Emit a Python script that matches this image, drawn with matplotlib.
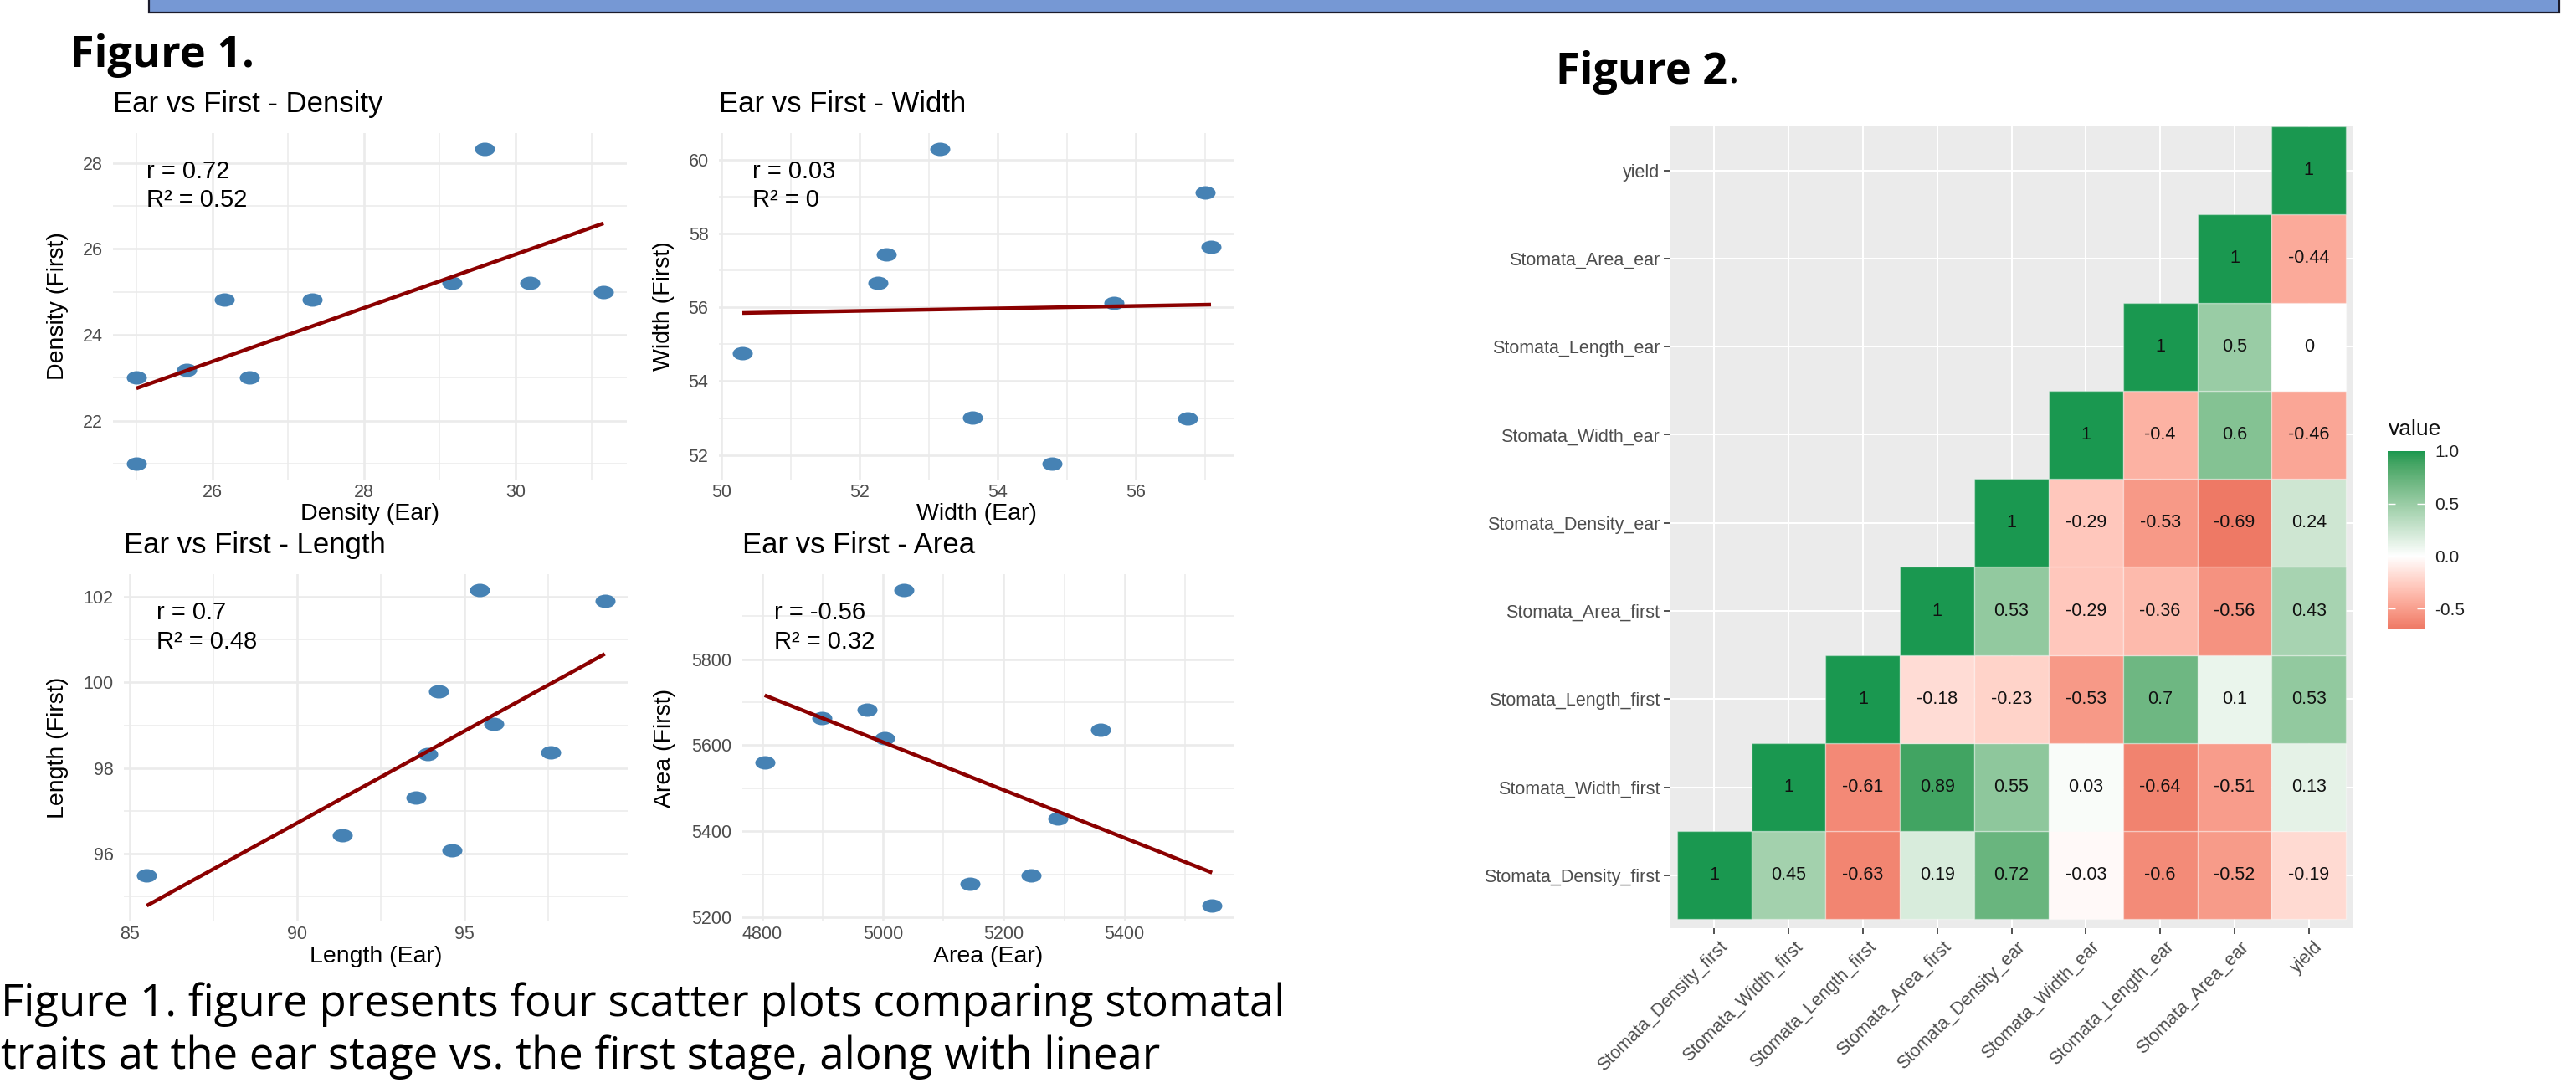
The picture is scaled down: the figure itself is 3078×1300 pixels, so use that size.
import numpy as np
import matplotlib
matplotlib.use('Agg')
import matplotlib.pyplot as plt
from matplotlib.patches import Rectangle
from matplotlib.path import Path
from matplotlib.ticker import MultipleLocator
from matplotlib.colors import ListedColormap, Normalize
from matplotlib.cm import ScalarMappable
from matplotlib.transforms import ScaledTranslation

plt.rcParams['font.family'] = ['Liberation Sans', 'DejaVu Sans']

# ---- Figure 1 data (ear vs first stage) ----
density_ear = [25.0, 25.0, 25.66, 26.16, 26.49, 27.32, 29.16, 29.59, 30.19, 31.16]
density_first = [23.0, 21.0, 23.19, 24.83, 23.0, 24.83, 25.21, 28.33, 25.21, 25.0]
width_ear = [50.30, 52.26, 52.38, 53.16, 53.64, 54.79, 55.68, 56.75, 57.0, 57.09]
width_first = [54.76, 56.67, 57.44, 60.30, 53.02, 51.76, 56.12, 52.99, 59.12, 57.65]
length_ear = [85.5, 91.35, 93.56, 93.91, 94.23, 94.64, 95.45, 95.89, 97.58, 99.2]
length_first = [95.5, 96.43, 97.31, 98.33, 99.8, 96.07, 102.16, 99.03, 98.36, 101.9]
area_ear = [4804, 4898, 4974, 5002, 5035, 5144, 5245, 5289, 5360, 5545]
area_first = [5559, 5663, 5682, 5616, 5961, 5278, 5298, 5429, 5636, 5227]

r_labels = ['0.72', '0.03', '0.7', '-0.56']
r2_labels = ['0.52', '0', '0.48', '0.32']

# ---- Figure 2 data (correlation matrix, upper triangle per row) ----
traits = ['Stomata_Density_first', 'Stomata_Width_first', 'Stomata_Length_first',
          'Stomata_Area_first', 'Stomata_Density_ear', 'Stomata_Width_ear',
          'Stomata_Length_ear', 'Stomata_Area_ear', 'yield']
row_density_first = [1, 0.45, -0.63, 0.19, 0.72, -0.03, -0.6, -0.52, -0.19]
row_width_first = [1, -0.61, 0.89, 0.55, 0.03, -0.64, -0.51, 0.13]
row_length_first = [1, -0.18, -0.23, -0.53, 0.7, 0.1, 0.53]
row_area_first = [1, 0.53, -0.29, -0.36, -0.56, 0.43]
row_density_ear = [1, -0.29, -0.53, -0.69, 0.24]
row_width_ear = [1, -0.4, 0.6, -0.46]
row_length_ear = [1, 0.5, 0]
row_area_ear = [1, -0.44]
row_yield = [1]
corr_rows = [row_density_first, row_width_first, row_length_first, row_area_first,
             row_density_ear, row_width_ear, row_length_ear, row_area_ear, row_yield]

W, H = 3078, 1300
fig = plt.figure(figsize=(W / 100, H / 100), dpi=100)


def box(x0, y0, x1, y1):
    return [x0 / W, 1 - y1 / H, (x1 - x0) / W, (y1 - y0) / H]


# slide decoration
fig.patches.append(Rectangle((178 / W, 1 - 15 / H), (3058 - 178) / W, 40 / H,
                             transform=fig.transFigure, facecolor='#7698D4',
                             edgecolor='#1B1B2B', linewidth=1.6))
fig.text(84 / W, 1 - 80 / H, 'Figure 1.', family='Open Sans', weight='bold',
         fontsize=37.5, va='baseline')
t2 = fig.text(1859 / W, 1 - 100 / H, 'Figure 2', family='Open Sans', weight='bold',
              fontsize=37.5, va='baseline')
bb = t2.get_window_extent(renderer=fig.canvas.get_renderer())
fig.text(bb.x1 / W, 1 - 100 / H, '.', family='Open Sans', fontsize=37.5, va='baseline')
fig.text(1 / W, 1 - 1214 / H,
         'Figure 1. figure presents four scatter plots comparing stomatal',
         family='Open Sans', fontsize=38, va='baseline')
fig.text(1 / W, 1 - 1277 / H,
         'traits at the ear stage vs. the first stage, along with linear',
         family='Open Sans', fontsize=38, va='baseline')

# ---- scatter panels ----
circ = Path.unit_circle()
ellipse = Path(circ.vertices * np.array([1.5, 1.0]), circ.codes)

panels = [
    ((135, 159, 749, 573), density_ear, density_first, 'Density', 2, 2, 69),
    ((859, 159, 1475, 573), width_ear, width_first, 'Width', 2, 2, 793),
    ((148, 686, 750, 1101), length_ear, length_first, 'Length', 5, 2, 69),
    ((887, 686, 1475, 1101), area_ear, area_first, 'Area', 200, 200, 794),
]

for k, (rect, xs, ys, name, xstep, ystep, ylab_x) in enumerate(panels):
    x0, y0, x1, y1 = rect
    ax = fig.add_axes(box(*rect))
    ax.set_axisbelow(True)
    ax.plot(xs, ys, ls='none', marker=ellipse, ms=17.3, mfc='#4682B4', mec='none')
    slope, icpt = np.polyfit(xs, ys, 1)
    xx = np.array([min(xs), max(xs)])
    ax.plot(xx, slope * xx + icpt, color='#8B0000', lw=3.2, solid_capstyle='butt')
    ax.xaxis.set_major_locator(MultipleLocator(xstep))
    ax.yaxis.set_major_locator(MultipleLocator(ystep))
    ax.xaxis.set_minor_locator(MultipleLocator(xstep / 2))
    ax.yaxis.set_minor_locator(MultipleLocator(ystep / 2))
    ax.grid(which='major', color='#EBEBEB', lw=1.9)
    ax.grid(which='minor', color='#EBEBEB', lw=1.15)
    for s in ax.spines.values():
        s.set_visible(False)
    ax.tick_params(which='both', length=0, labelsize=15.5, labelcolor='#4D4D4D')
    ax.tick_params(axis='y', pad=9)
    ax.tick_params(axis='x', pad=3.5)
    ax.set_title('Ear vs First - ' + name, loc='left', fontsize=25, y=1.063, va='center')
    ax.set_xlabel(name + ' (Ear)', fontsize=20.5)
    ax.set_ylabel(name + ' (First)', fontsize=20.5)
    ax.xaxis.set_label_coords(0.5, -0.10)
    ax.xaxis.label.set_va('center')
    ax.yaxis.set_label_coords((ylab_x - x0) / (x1 - x0), 0.5)
    ax.yaxis.label.set_va('center')
    ax.text(0.065, 0.889, 'r = ' + r_labels[k], transform=ax.transAxes,
            fontsize=21, va='center', ha='left')
    ax.text(0.065, 0.806, 'R\u00b2 = ' + r2_labels[k], transform=ax.transAxes,
            fontsize=21, va='center', ha='left')

# ---- correlation heatmap ----
M = np.array([[0.4124, 0.3576, 0.1805], [0.2126, 0.7152, 0.0722], [0.0193, 0.1192, 0.9505]])
WHITE_XYZ = np.array([0.95047, 1.0, 1.08883])


def to_lab(rgb):
    c = np.asarray(rgb, float)
    lin = np.where(c <= 0.04045, c / 12.92, ((c + 0.055) / 1.055) ** 2.4)
    xyz = lin @ M.T / WHITE_XYZ
    f = np.where(xyz > (6 / 29) ** 3, np.cbrt(xyz), xyz / (3 * (6 / 29) ** 2) + 4 / 29)
    return np.array([116 * f[1] - 16, 500 * (f[0] - f[1]), 200 * (f[1] - f[2])])


def to_rgb(lab):
    fy = (lab[0] + 16) / 116
    f = np.array([fy + lab[1] / 500, fy, fy - lab[2] / 200])
    xyz = np.where(f > 6 / 29, f ** 3, 3 * (6 / 29) ** 2 * (f - 4 / 29)) * WHITE_XYZ
    lin = np.linalg.inv(M) @ xyz
    lin = np.clip(lin, 0, None)
    c = np.where(lin <= 0.0031308, 12.92 * lin, 1.055 * lin ** (1 / 2.4) - 0.055)
    return np.clip(c, 0, 1)


low_lab = to_lab(matplotlib.colors.to_rgb('#D73027'))
mid_lab = to_lab((1, 1, 1))
high_lab = to_lab(matplotlib.colors.to_rgb('#1A9850'))
steps = np.linspace(-1, 1, 513)
cols = [to_rgb(mid_lab + (-t) * (low_lab - mid_lab)) if t < 0
        else to_rgb(mid_lab + t * (high_lab - mid_lab)) for t in steps]
cmap = ListedColormap(cols)
norm = Normalize(-1, 1)

hax = fig.add_axes(box(1995, 151, 2812, 1109))
hax.set_facecolor('#EBEBEB')
hax.set_axisbelow(True)
n = len(traits)
for i, row in enumerate(corr_rows):
    for k, v in enumerate(row):
        j = i + k
        hax.add_patch(Rectangle((j + 0.5, i + 0.5), 1, 1, facecolor=cmap(norm(v)),
                                edgecolor=(1, 1, 1, 0.35), linewidth=1))
        hax.text(j + 1, i + 1, f'{v:g}', ha='center', va='center', fontsize=15.5,
                 color='#111111')
hax.set_xlim(0.4, n + 0.6)
hax.set_ylim(0.4, n + 0.5)
hax.set_xticks(range(1, n + 1))
hax.set_yticks(range(1, n + 1))
hax.set_xticklabels(traits, rotation=45, ha='right', va='top', rotation_mode='anchor')
hax.set_yticklabels(traits)
hax.grid(color='white', lw=1.5)
for s in hax.spines.values():
    s.set_visible(False)
hax.tick_params(length=5, width=1.2, color='#333333', labelsize=15.5,
                labelcolor='#4D4D4D', pad=3.5)
for lbl in hax.get_xticklabels():
    lbl.set_transform(lbl.get_transform() + ScaledTranslation(0.06, 0, fig.dpi_scale_trans))

# legend colorbar
all_vals = [v for row in corr_rows for v in row]
cax = fig.add_axes(box(2853, 539, 2897, 751))
cb = fig.colorbar(ScalarMappable(norm=norm, cmap=cmap), cax=cax,
                  boundaries=np.linspace(min(all_vals), max(all_vals), 300))
cb.outline.set_visible(False)
tick_vals = [-0.5, 0.0, 0.5, 1.0]
cb.set_ticks(tick_vals)
cb.set_ticklabels([f'{t:.1f}' for t in tick_vals])
cax.tick_params(length=0, labelsize=15, labelcolor='#222222', pad=9)
cax.hlines(tick_vals[:-1], 0, 0.2, color='white', lw=1)
cax.hlines(tick_vals[:-1], 0.8, 1, color='white', lw=1)
fig.text(2854 / W, 1 - 513 / H, 'value', fontsize=19, va='center', ha='left', color='#111111')

fig.savefig('out.png', dpi=100)
